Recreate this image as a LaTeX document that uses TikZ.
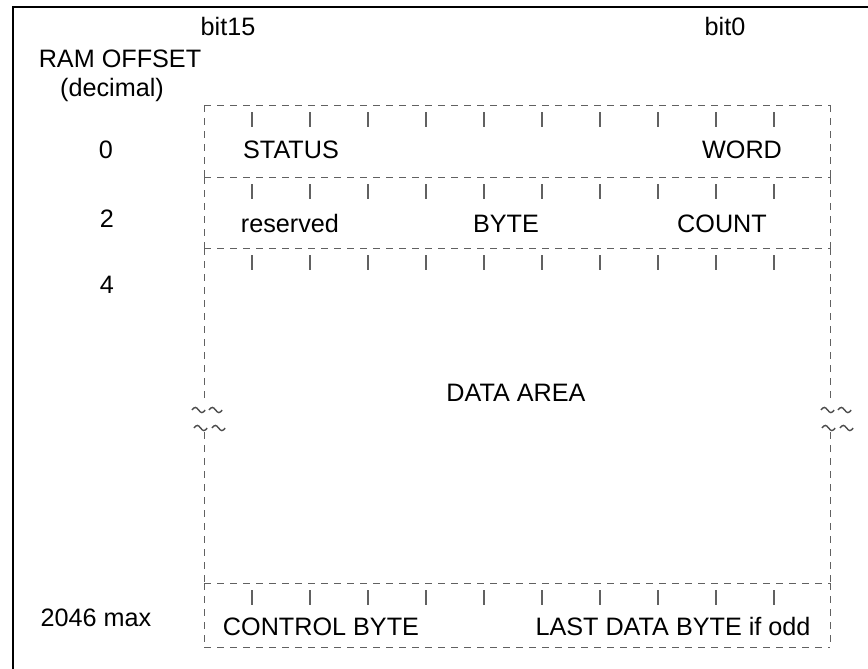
\documentclass[tikz,border=0pt]{standalone}
\usepackage{fontspec}
\setmainfont{Liberation Sans}
\begin{document}
\begin{tikzpicture}[x=0.5pt,y=-0.5pt,
  lbl/.style={anchor=base, inner sep=0pt, font=\fontsize{12.6}{15}\selectfont},
  dsh/.style={draw=black!62, line width=0.5pt, dash pattern=on 3.5pt off 3pt},
  tickln/.style={draw=black!62, line width=0.55pt},
  frameln/.style={draw=black, line width=1.1pt},
  tld/.style={draw=black!70, line width=0.7pt}]
\useasboundingbox (0,0) rectangle (868,669);
% outer frame
\draw[frameln] (13,669) -- (13,7) -- (868,7);
% header labels
\node[lbl] (b15) at (228,35) {bit15};
\node[lbl] (b0) at (725,35) {bit0};
\node[lbl] (ram) at (120,68) {RAM OFFSET};
\node[lbl] (dec) at (112,96) {(decimal)};
\node[lbl] (o0) at (106,158) {0};
\node[lbl] (o2) at (107,227) {2};
\node[lbl] (o4) at (107,293) {4};
\node[lbl] (omax) at (96,626) {2046 max};
% dashed horizontal lines
\foreach \y in {105,177,248,583,647}{
  \draw[dsh] (204,\y) -- (830,\y);
}
% dashed vertical sides
\foreach \x in {204,830}{
  \draw[dsh] (\x,105) -- (\x,177);
  \draw[dsh] (\x,177) -- (\x,248);
  \draw[dsh] (\x,248) -- (\x,402);
  \draw[dsh] (\x,432) -- (\x,583);
  \draw[dsh] (\x,583) -- (\x,647);
}
% ticks
\foreach \t in {105,177,248,583}{
  \foreach \k in {0,...,9}{
    \draw[tickln] ({252+58*\k},{\t+7}) -- ({252+58*\k},{\t+22});
  }
}
% tildes
\foreach \x/\y in {192/410,209/410,194/428,212/428,821/410,838/410,822/428,840/428}{
  \draw[tld] (\x,\y) sin ({\x+3.3},{\y-2.6}) cos ({\x+6.6},\y) sin ({\x+9.9},{\y+2.6}) cos ({\x+13.2},\y);
}
% field texts
\node[lbl] (status) at (291,158) {STATUS};
\node[lbl] (word) at (742,158) {WORD};
\node[lbl] (res) at (290,232) {reserved};
\node[lbl] (byte) at (506,232) {BYTE};
\node[lbl] (count) at (722,232) {COUNT};
\node[lbl] (data) at (516,401) {DATA AREA};
\node[lbl] (ctrl) at (321,635) {CONTROL BYTE};
\node[lbl] (last) at (673,635) {LAST DATA BYTE if odd};
\end{tikzpicture}
\end{document}
